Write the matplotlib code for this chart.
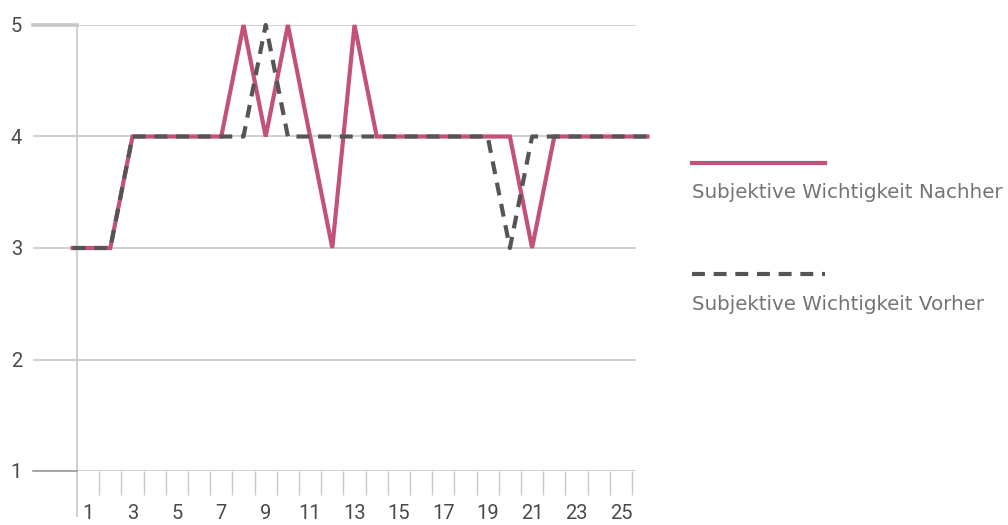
import numpy as np
import matplotlib.pyplot as plt
from matplotlib.lines import Line2D

# data
categories = np.arange(1, 26)
nachher = [3, 3, 4, 4, 4, 4, 4, 5, 4, 5, 4, 3, 5, 4, 4, 4, 4, 4, 4, 4, 3, 4, 4, 4, 4]
vorher = [3, 3, 4, 4, 4, 4, 4, 4, 5, 4, 4, 4, 4, 4, 4, 4, 4, 4, 4, 3, 4, 4, 4, 4, 4]
x_label_cats = categories[::2]
x_labels = [str(c) for c in x_label_cats]
y_ticks = [1, 2, 3, 4, 5]
series_names = ["Subjektive Wichtigkeit Nachher", "Subjektive Wichtigkeit Vorher"]

PINK = "#c4507c"
DARK = "#555555"
GRID = "#c8c8c8"
TEXT = "#4a4a4a"
LEGEND_TEXT = "#747474"

plt.rcParams['font.family'] = ['Roboto', 'DejaVu Sans']

W, H = 1008, 525
fig = plt.figure(figsize=(W / 100, H / 100), dpi=100)
ax = fig.add_axes([33 / W, 54 / H, 603 / W, 446 / H])

cat_px = 22.2
x_lo = 0.5 - 44 / cat_px
x_hi = 0.5 + 559 / cat_px
ax.set_xlim(x_lo, x_hi)
ax.set_ylim(1, 5)
for s in ax.spines.values():
    s.set_visible(False)


# the original lines run a bit past the first and last category
def padded(vals):
    xs = np.concatenate([[categories[0] - 0.7], categories, [categories[-1] + 1.2]])
    ys = np.concatenate([[vals[0]], vals, [vals[-1]]])
    return xs, ys


lw = 3.0
xs, ys = padded(nachher)
ax.plot(xs, ys, color=PINK, lw=lw, solid_joinstyle='miter', clip_on=False, zorder=3)
xs, ys = padded(vorher)
ax.plot(xs, ys, color=DARK, lw=lw, dashes=(3.1, 2.1), clip_on=False, zorder=4)

# grid and axis lines
ax.set_yticks(y_ticks)
ax.yaxis.grid(True, color=GRID, lw=1.2)
ax.set_axisbelow(True)
ax.tick_params(axis='y', length=0, pad=8, labelsize=14.5, labelcolor=TEXT)
ax.plot([0.5, 0.5], [1 - 45 / 111.5, 5], color=GRID, lw=1.2, clip_on=False, zorder=1)
ax.plot([x_lo, 0.5], [5, 5], color=GRID, lw=2.6, clip_on=False, zorder=1)
ax.plot([x_lo, 0.5], [1, 1], color="#9a9a9a", lw=1.2, clip_on=False, zorder=1)

ax.set_xticks(np.arange(1.5, 25.6, 1), labels=[])
ax.tick_params(axis='x', which='major', length=17, width=1, color=GRID, direction='out')
ax.set_xticks(x_label_cats, labels=x_labels, minor=True)
ax.tick_params(axis='x', which='minor', length=0, pad=24, labelsize=14.5, labelcolor=TEXT)

# legend drawn by hand
legend_rows = [(163, 193, dict(color=PINK)), (274, 305, dict(color=DARK, dashes=(3.1, 2.1)))]
for name, (ly, ty, style) in zip(series_names, legend_rows):
    fig.add_artist(Line2D([692 / W, 825 / W], [1 - ly / H] * 2, lw=lw, **style))
    fig.text(692 / W, 1 - ty / H, name, va='center', ha='left', fontsize=14.3,
             color=LEGEND_TEXT, family='DejaVu Sans')

fig.savefig("out.png", dpi=100)
